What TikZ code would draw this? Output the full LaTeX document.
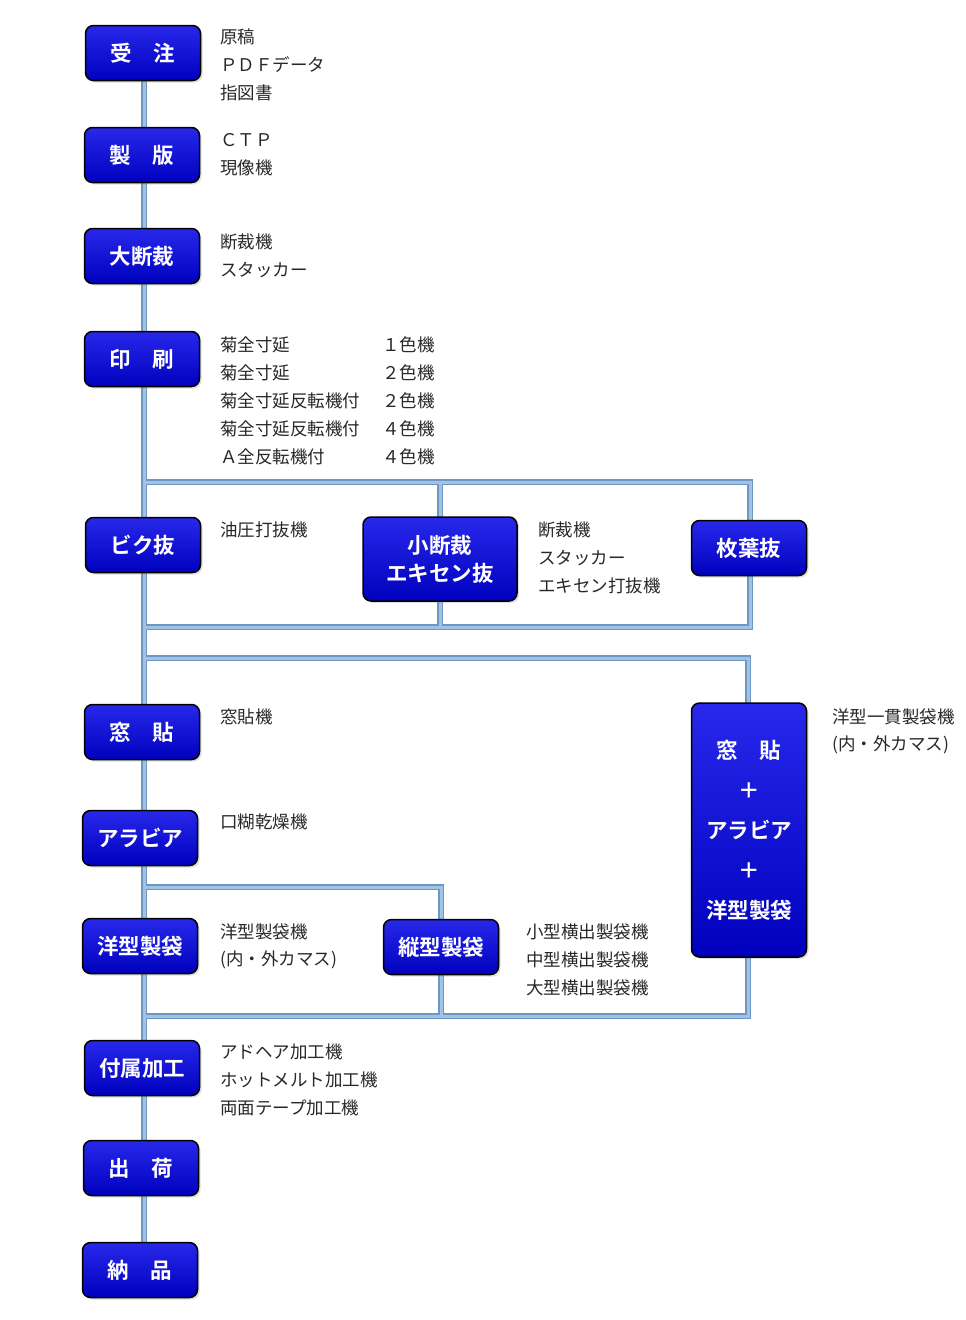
\documentclass[tikz,border=0pt]{standalone}
\usepackage{fontspec}
\setmainfont{Noto Sans CJK JP}
\newfontfamily\boxfont{Noto Sans CJK JP Bold}
\usetikzlibrary{backgrounds,shadows}
\definecolor{boxtop}{RGB}{40,40,235}
\definecolor{boxbot}{RGB}{0,0,190}
\definecolor{lineout}{RGB}{110,150,195}
\definecolor{linein}{RGB}{160,195,230}
\definecolor{txt}{RGB}{40,40,40}
\begin{document}
\begin{tikzpicture}[x=1pt,y=-1pt,
  stepbox/.style={draw=black, line width=1.5pt, rounded corners=8pt,
    top color=boxtop, bottom color=boxbot, text=white,
    minimum width=115pt, minimum height=55pt, inner sep=0pt,
    font=\boxfont\fontsize{21.5}{26}\selectfont, align=center,
    drop shadow={opacity=0.25, shadow xshift=2pt, shadow yshift=-2pt}},
  lbl/.style={anchor=west, inner sep=0pt, text=txt, font=\fontsize{17.5}{21}\selectfont},
  connout/.style={draw=lineout, line width=6.5pt},
  connin/.style={draw=linein, line width=3pt}]
\useasboundingbox (0,0) rectangle (966,1320);

% boxes
\node[stepbox] (juchu) at (143,53) {受　注};
\node[stepbox] (seihan) at (142,155) {製　版};
\node[stepbox] (daidan) at (142,256) {大断裁};
\node[stepbox] (insatsu) at (142,359) {印　刷};
\node[stepbox] (biku) at (143,545) {ビク抜};
\node[stepbox, minimum width=154pt, minimum height=84pt] (kodan) at (440,559) {小断裁\\[2pt]エキセン抜};
\node[stepbox] (maiyo) at (749,548) {枚葉抜};
\node[stepbox] (madohari) at (142,732) {窓　貼};
\node[stepbox] (arabia) at (140,838) {アラビア};
\node[stepbox] (yogata) at (140,946) {洋型製袋};
\node[stepbox] (tategata) at (441,947) {縦型製袋};
\node[stepbox, minimum height=254pt, font=\boxfont\fontsize{21.5}{40}\selectfont] (ikkan) at (749,830) {窓　貼\\＋\\アラビア\\＋\\洋型製袋};
\node[stepbox] (fuzoku) at (142,1068) {付属加工};
\node[stepbox] (shukka) at (141,1168) {出　荷};
\node[stepbox] (nohin) at (140,1270) {納　品};

% labels
\node[lbl] (t1) at (220,37) {原稿};
\node[lbl] (t2) at (220,65) {ＰＤＦデータ};
\node[lbl] (t3) at (220,93) {指図書};
\node[lbl] (t4) at (220,140) {ＣＴＰ};
\node[lbl] (t5) at (220,168) {現像機};
\node[lbl] (t6) at (220,242) {断裁機};
\node[lbl] (t7) at (220,270) {スタッカー};
\node[lbl] (p1) at (220,345) {菊全寸延};
\node[lbl] (p2) at (220,373) {菊全寸延};
\node[lbl] (p3) at (220,401) {菊全寸延反転機付};
\node[lbl] (p4) at (220,429) {菊全寸延反転機付};
\node[lbl] (p5) at (220,457) {Ａ全反転機付};
\node[lbl] (c1) at (382,345) {１色機};
\node[lbl] (c2) at (382,373) {２色機};
\node[lbl] (c3) at (382,401) {２色機};
\node[lbl] (c4) at (382,429) {４色機};
\node[lbl] (c5) at (382,457) {４色機};
\node[lbl] (b1) at (220,530) {油圧打抜機};
\node[lbl] (k1) at (538,530) {断裁機};
\node[lbl] (k2) at (538,558) {スタッカー};
\node[lbl] (k3) at (538,586) {エキセン打抜機};
\node[lbl] (m1) at (220,717) {窓貼機};
\node[lbl] (i1) at (832,717) {洋型一貫製袋機};
\node[lbl] (i2) at (832,745) {(内・外カマス)};
\node[lbl] (a1) at (220,822) {口糊乾燥機};
\node[lbl] (y1) at (220,932) {洋型製袋機};
\node[lbl] (y2) at (220,960) {(内・外カマス)};
\node[lbl] (v1) at (526,932) {小型横出製袋機};
\node[lbl] (v2) at (526,960) {中型横出製袋機};
\node[lbl] (v3) at (526,988) {大型横出製袋機};
\node[lbl] (f1) at (220,1052) {アドヘア加工機};
\node[lbl] (f2) at (220,1080) {ホットメルト加工機};
\node[lbl] (f3) at (220,1108) {両面テープ加工機};

% frame coordinates
\coordinate (f1a) at (144,482);
\coordinate (f1b) at (750,482);
\coordinate (f1c) at (750,627);
\coordinate (f1d) at (144,627);
\coordinate (f2a) at (144,658);
\coordinate (f2b) at (748,658);
\coordinate (f2c) at (748,1016);
\coordinate (f2d) at (144,1016);
\coordinate (f3a) at (144,887);
\coordinate (f3b) at (441,887);
\coordinate (f3c) at (441,1016);
\coordinate (mtop) at (144,53);
\coordinate (mbot) at (144,1270);

\begin{scope}[on background layer]
\fill[white] (0,0) rectangle (966,1320);
\foreach \st in {connout,connin}{
  \draw[\st] (mtop) -- (mbot);
  \draw[\st] (f1a) -- (f1b) -- (f1c) -- (f1d);
  \draw[\st] (kodan.center |- f1a) -- (kodan.center |- f1d);
  \draw[\st] (f2a) -- (f2b) -- (f2c) -- (f2d);
  \draw[\st] (f3a) -- (f3b) -- (f3c);
}
\end{scope}
\end{tikzpicture}
\end{document}
